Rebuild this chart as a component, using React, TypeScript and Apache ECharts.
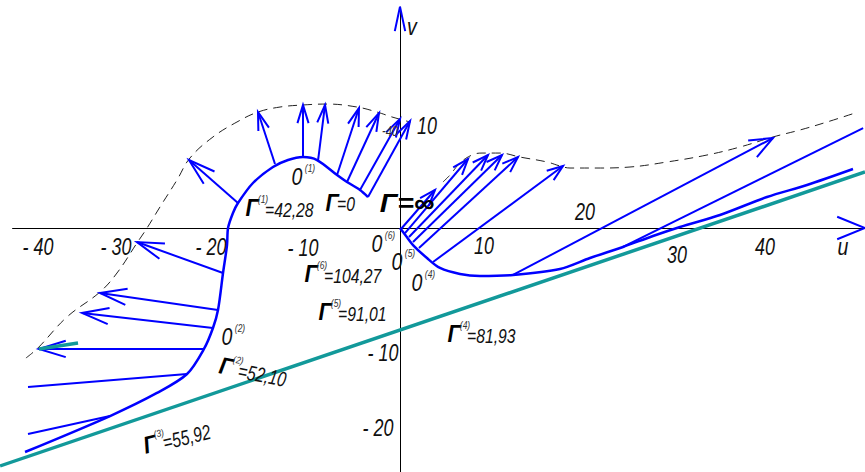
import React, { useEffect, useRef } from "react";
import * as echarts from "echarts";

// ---- axis ranges (diagram units u, v) ----
const U_MIN = -43.01;
const U_MAX = 50.0;
const V_MIN = -26.24;
const V_MAX = 24.52;

// ---- axes ----
const uAxisLine = [[-41.7, 0], [50.0, 0]];
const vAxisLine = [[0, 23.8], [0, -26.3]];

// ---- base line (teal) ----
const baseLine = [[-43.0, -25.59], [50.0, 6.02]];
const baseStub = [[-38.82, -13.01], [-34.62, -12.37]];

// ---- profile curve ----
const profileLeft = [
  [-40.32, -24.09], [-31.18, -20.22], [-26.13, -17.74], [-22.9, -15.7], [-21.08, -13.01],
  [-20.11, -10.75], [-19.57, -8.82], [-19.03, -4.84], [-18.6, -1.83], [-18.49, 0],
  [-17.96, 1.61], [-17.42, 2.69], [-15.81, 4.84], [-13.66, 6.56], [-12.04, 7.31],
  [-10.43, 7.63], [-8.92, 7.31], [-6.77, 5.7], [-5.7, 4.95], [-4.3, 4.09], [-3.44, 3.33],
];
const profileRight = [
  [0, 0], [0.65, -0.86], [1.4, -1.83], [2.9, -3.23], [4.3, -4.3], [6.45, -4.95],
  [8.6, -5.16], [12.15, -5.05], [17.2, -4.41], [20.43, -3.23], [23.98, -2.04],
  [27.2, -0.86], [30.11, 0.11], [34.41, 1.4], [39.46, 3.33], [43.76, 4.62], [48.71, 6.34],
];

// ---- envelope (dashed) ----
const envelopeLeft = [
  [-40.22, -13.98], [-38.93, -12.9], [-35.81, -9.57], [-32.26, -6.88], [-30.43, -4.84],
  [-28.28, -1.61], [-27.2, 0], [-25.81, 2.26], [-23.98, 5.16], [-22.58, 7.53],
  [-20.11, 9.79], [-17.53, 11.4], [-15.27, 12.47], [-12.9, 13.01], [-10.43, 13.23],
  [-7.85, 13.33], [-4.62, 13.01], [-2.47, 12.47], [-0.86, 11.94], [1.08, 11.4],
];
const envelopeRight = [
  [4.62, 4.95], [5.38, 5.7], [6.45, 6.99], [7.74, 7.85], [8.82, 8.06], [10.75, 8.06],
  [12.9, 7.63], [15.81, 7.1], [17.2, 6.67], [18.28, 6.45], [21.18, 6.45], [24.73, 6.56],
  [28.71, 7.1], [33.01, 7.85], [36.56, 8.71], [40.11, 9.79], [43.01, 10.54],
  [45.92, 11.4], [49.25, 12.47],
];

// ---- vectors: [base, tip] ----
const vectorsLeft = [
  [[-17.42, 2.69], [-22.69, 7.31]],
  [[-19.03, -4.84], [-28.28, -1.51]],
  [[-19.57, -8.82], [-32.26, -6.99]],
  [[-20.11, -10.75], [-34.19, -9.14]],
  [[-21.08, -13.01], [-38.82, -13.01]],
];
const vectorsUpper = [
  [[-13.44, 6.88], [-15.27, 12.47]],
  [[-10.43, 7.63], [-10.43, 13.23]],
  [[-8.82, 7.2], [-8.06, 13.23]],
  [[-6.77, 5.7], [-4.41, 12.9]],
  [[-5.7, 4.95], [-2.26, 12.37]],
  [[-4.3, 4.09], [0, 11.72]],
  [[-3.44, 3.33], [1.08, 11.51]],
];
const vectorsRight = [
  [[0.11, -0.11], [3.76, 4.09]],
  [[0.54, -0.54], [7.31, 7.42]],
  [[0.97, -0.97], [9.46, 7.85]],
  [[1.4, -1.51], [10.97, 7.85]],
  [[2.04, -2.15], [12.69, 7.63]],
  [[3.55, -3.66], [17.53, 6.67]],
];
const vectorLong = [[[12.15, -5.05], [40.11, 9.68]]];
const vectorsPlain = [
  [[-22.9, -15.7], [-40.0, -17.1]],
  [[-31.18, -20.22], [-40.0, -22.15]],
  [[23.98, -2.04], [49.8, 10.75]],
];

// ---- texts ----
const tickLabels = ["- 40", "- 30", "- 20", "- 10", "10", "20", "30", "40", "10", "- 10", "- 20"];
const tickLabelPos = [
  [38, 247], [116, 247], [211, 247], [303, 248], [484, 246], [585, 212], [677, 255],
  [765, 247], [427, 126], [383, 353], [378, 428],
];
const pointSups = ["(1)", "(6)", "(5)", "(4)", "(2)"];
const pointPos = [[297, 177], [377, 244], [397, 262], [417, 283], [227, 337]];
const gammaValues = ["42,28", "104,27", "91,01", "81,93", "52,10", "55,92"];
const gammaSups = ["(1)", "(6)", "(5)", "(4)", "(2)", "(3)"];
const gammaPos = [[252, 208], [311, 274], [325, 312], [454, 334], [226, 366], [150, 444]];
const gammaRot = [0, 0, 0, 0, -0.19, 0.24];

const BLUE = "#0000ff";
const TEAL = "#12999a";
const FONT = "'Liberation Sans', Arial, sans-serif";

function head(b: number[], t: number[], lenPx: number, deg: number, ppu: number) {
  const dx = b[0] - t[0];
  const dy = b[1] - t[1];
  const L = Math.hypot(dx, dy) || 1;
  const ux = dx / L;
  const uy = dy / L;
  const l = lenPx / ppu;
  const a = (deg * Math.PI) / 180;
  const c = Math.cos(a);
  const s = Math.sin(a);
  return [
    [t[0] + l * (ux * c - uy * s), t[1] + l * (ux * s + uy * c)],
    t,
    [t[0] + l * (ux * c + uy * s), t[1] + l * (-ux * s + uy * c)],
  ];
}

function txt(text: string, x: number, y: number, o: any = {}) {
  return {
    type: "text",
    x,
    y,
    rotation: o.rotation || 0,
    scaleX: o.scaleX || 1,
    z: 100,
    style: {
      text,
      fill: o.fill || "#111",
      fontSize: o.fontSize || 22,
      fontFamily: o.fontFamily || FONT,
      fontStyle: o.fontStyle || "italic",
      fontWeight: o.fontWeight || "normal",
      align: o.align || "center",
      textAlign: o.align || "center",
      verticalAlign: "middle",
      textVerticalAlign: "middle",
    },
  };
}

export default function App() {
  const ref = useRef<HTMLDivElement>(null);
  useEffect(() => {
    if (!ref.current) return;
    const chart = echarts.init(ref.current, undefined, { renderer: "svg" });
    const ppu = 865 / (U_MAX - U_MIN);

    const heads: any[] = [];
    vectorsLeft.forEach(([b, t]) => heads.push({ coords: head(b, t, 28, 17, ppu) }));
    vectorsUpper.forEach(([b, t]) => heads.push({ coords: head(b, t, 19, 17, ppu) }));
    vectorsRight.forEach(([b, t]) => heads.push({ coords: head(b, t, 17, 20, ppu) }));
    vectorLong.forEach(([b, t]) => heads.push({ coords: head(b, t, 25, 22, ppu) }));
    heads.push({ coords: head(uAxisLine[0], uAxisLine[1], 30, 22, ppu) });
    heads.push({ coords: head(vAxisLine[1], vAxisLine[0], 25, 12, ppu) });

    const shafts = [...vectorsLeft, ...vectorsUpper, ...vectorsRight, ...vectorLong, ...vectorsPlain].map(
      (v) => ({ coords: v })
    );

    const SUPF = "'Liberation Sans', Arial, sans-serif";
    const graphic: any[] = [];
    tickLabels.forEach((t, i) =>
      graphic.push(txt(t, tickLabelPos[i][0], tickLabelPos[i][1], { fontSize: 23, scaleX: 0.78 }))
    );
    graphic.push(txt("-40", 390, 132, { fontSize: 14, fill: "#333", scaleX: 0.8 }));
    graphic.push(txt("v", 412, 27, { fontSize: 23, scaleX: 0.85 }));
    graphic.push(txt("u", 843, 247, { fontSize: 23, scaleX: 0.85 }));
    pointSups.forEach((s, i) => {
      const [x, y] = pointPos[i];
      graphic.push(txt("0", x, y, { fontSize: 23, scaleX: 0.85 }));
      graphic.push(txt(s, x + 13, y - 8, { fontSize: 10, fill: "#333", fontFamily: SUPF, scaleX: 0.85 }));
    });
    gammaValues.forEach((v, i) => {
      const [x, y] = gammaPos[i];
      graphic.push({
        type: "group",
        x,
        y,
        rotation: gammaRot[i],
        z: 100,
        children: [
          txt("Γ", 0, 0, { fontSize: 24, fontWeight: 900, fill: "#000", scaleX: 0.9 }),
          txt(gammaSups[i], 11, -8, { fontSize: 10, fill: "#333", fontFamily: SUPF, scaleX: 0.85 }),
          txt("=" + v, 13, 2, { fontSize: 21, align: "left", scaleX: 0.75 }),
        ],
      });
    });
    graphic.push(txt("Γ", 332, 203, { fontSize: 24, fontWeight: 900, fill: "#000", scaleX: 0.9 }));
    graphic.push(txt("=0", 337, 204, { fontSize: 21, align: "left", scaleX: 0.75 }));
    graphic.push(txt("Γ=∞", 407, 203, { fontSize: 26, fontWeight: 900, fill: "#000", scaleX: 1.1 }));

    chart.setOption({
      animation: false,
      backgroundColor: "#ffffff",
      grid: { left: 0, right: 0, top: 0, bottom: 0 },
      xAxis: { type: "value", min: U_MIN, max: U_MAX, show: false },
      yAxis: { type: "value", min: V_MIN, max: V_MAX, show: false },
      graphic,
      series: [
        {
          type: "lines",
          coordinateSystem: "cartesian2d",
          silent: true,
          lineStyle: { color: "#000", width: 1, opacity: 1 },
          data: [{ coords: uAxisLine }, { coords: vAxisLine }],
          z: 1,
        },
        {
          type: "line",
          data: envelopeLeft,
          smooth: 0.4,
          showSymbol: false,
          silent: true,
          lineStyle: { color: "#222", width: 1, type: [9, 6] },
          z: 2,
        },
        {
          type: "line",
          data: envelopeRight,
          smooth: 0.4,
          showSymbol: false,
          silent: true,
          lineStyle: { color: "#222", width: 1, type: [9, 6] },
          z: 2,
        },
        {
          type: "line",
          data: profileLeft,
          smooth: 0.3,
          showSymbol: false,
          silent: true,
          lineStyle: { color: BLUE, width: 2.5 },
          z: 3,
        },
        {
          type: "line",
          data: profileRight,
          smooth: 0.3,
          showSymbol: false,
          silent: true,
          lineStyle: { color: BLUE, width: 2.5 },
          z: 3,
        },
        {
          type: "lines",
          coordinateSystem: "cartesian2d",
          silent: true,
          lineStyle: { color: BLUE, width: 2, opacity: 1 },
          data: shafts,
          z: 3,
        },
        {
          type: "lines",
          coordinateSystem: "cartesian2d",
          polyline: true,
          silent: true,
          lineStyle: { color: BLUE, width: 2, opacity: 1 },
          data: heads,
          z: 3,
        },
        {
          type: "lines",
          coordinateSystem: "cartesian2d",
          silent: true,
          lineStyle: { color: TEAL, width: 3.5, opacity: 1 },
          data: [{ coords: baseLine }, { coords: baseStub }],
          z: 4,
        },
      ],
    });
    return () => chart.dispose();
  }, []);
  return (
    <div
      ref={ref}
      style={{ position: "absolute", left: 0, top: 0, width: 865, height: 472, background: "#fff" }}
    />
  );
}
